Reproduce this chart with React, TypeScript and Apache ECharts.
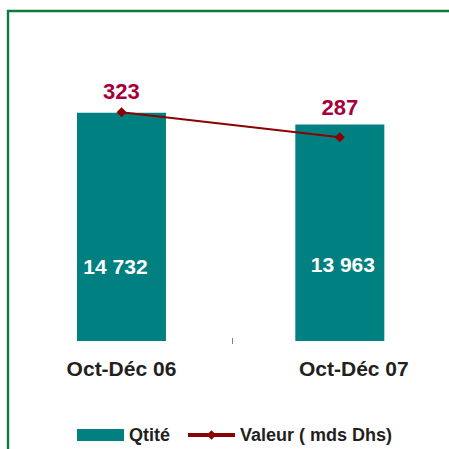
import React, { useEffect, useRef } from "react";
import * as echarts from "echarts";

const categories = ["Oct-Déc 06", "Oct-Déc 07"];
const qtite = [14732, 13963];
const valeur = [323, 287];
const seriesNames = ["Qtité", "Valeur ( mds Dhs)"];

const FONT = "'Liberation Sans', Arial, sans-serif";

function fmtThousands(v: number): string {
  return String(v).replace(/\B(?=(\d{3})+(?!\d))/g, " ");
}

export default function App() {
  const ref = useRef<HTMLDivElement>(null);
  useEffect(() => {
    document.body.style.margin = "0";
    const chart = echarts.init(ref.current!, undefined, { renderer: "svg" });
    const barLabelOffsets = [[-6, 0], [3, 0]];
    const barLabelDist = [64, 66];
    const lineLabelDist = [5, 14];
    chart.setOption({
      animation: false,
      backgroundColor: "#ffffff",
      textStyle: { fontFamily: FONT },
      graphic: [
        {
          type: "rect",
          shape: { x: 8, y: 11, width: 600, height: 600 },
          style: { fill: "none", stroke: "#0B7A3B", lineWidth: 2.4 },
          silent: true,
          z: 100,
        },
      ],
      grid: [
        { left: 12.3, top: 31, width: 440, height: 310, containLabel: false },
        // helper grid: only carries the single category-separator tick
        { left: 232.3, top: 31, width: 400, height: 310, containLabel: false },
      ],
      legend: {
        left: 77,
        top: 426,
        padding: 0,
        itemWidth: 47,
        itemHeight: 12,
        itemGap: 16,
        selectedMode: false,
        lineStyle: { width: 4 },
        textStyle: { fontFamily: FONT, fontSize: 18, fontWeight: "bold", color: "#231F20" },
        data: [
          { name: seriesNames[0], icon: "rect" },
          { name: seriesNames[1] },
        ],
      },
      xAxis: [
        {
          type: "category",
          gridIndex: 0,
          data: categories,
          boundaryGap: true,
          axisLine: { show: false },
          axisTick: { show: false },
          axisLabel: {
            margin: 17,
            fontFamily: FONT,
            fontSize: 21,
            fontWeight: "bold",
            color: "#231F20",
            formatter: (v: string, i: number) => (i === 1 ? `{r|${v}}` : `{l|${v}}`),
            rich: {
              l: { fontFamily: FONT, fontSize: 21, fontWeight: "bold", color: "#231F20" },
              r: {
                fontFamily: FONT,
                fontSize: 21,
                fontWeight: "bold",
                color: "#231F20",
                padding: [0, 0, 0, 28],
              },
            },
          },
        },
        {
          type: "value",
          gridIndex: 1,
          min: 0,
          max: 1,
          interval: 1,
          offset: -3,
          axisLine: { show: false },
          axisLabel: { show: false },
          splitLine: { show: false },
          axisTick: { show: true, length: 6, lineStyle: { color: "#808080", width: 1 } },
        },
      ],
      yAxis: [
        {
          type: "value",
          gridIndex: 0,
          min: 0,
          max: 20000,
          show: false,
          splitLine: { show: false },
        },
        {
          type: "value",
          gridIndex: 0,
          min: -6,
          max: 440,
          show: false,
          splitLine: { show: false },
        },
        {
          type: "value",
          gridIndex: 1,
          min: 0,
          max: 1,
          show: false,
          splitLine: { show: false },
        },
      ],
      series: [
        {
          name: seriesNames[0],
          type: "bar",
          xAxisIndex: 0,
          yAxisIndex: 0,
          barWidth: 89,
          itemStyle: { color: "#008080" },
          data: qtite.map((v, i) => ({
            value: v,
            label: {
              show: true,
              position: "insideBottom",
              distance: barLabelDist[i],
              offset: barLabelOffsets[i],
              formatter: () => fmtThousands(v),
              color: "#ffffff",
              fontFamily: FONT,
              fontSize: 21,
              fontWeight: "bold",
            },
          })),
        },
        {
          name: seriesNames[1],
          type: "line",
          xAxisIndex: 0,
          yAxisIndex: 1,
          symbol: "diamond",
          symbolSize: 10,
          itemStyle: { color: "#8B0000" },
          lineStyle: { color: "#8B0000", width: 2 },
          data: valeur.map((v, i) => ({
            value: v,
            label: {
              show: true,
              position: "top",
              distance: lineLabelDist[i],
              color: "#A5003A",
              fontFamily: FONT,
              fontSize: 22,
              fontWeight: "bold",
            },
          })),
        },
      ],
    });
    return () => chart.dispose();
  }, []);
  return (
    <div
      ref={ref}
      style={{ position: "fixed", left: 0, top: 0, width: 449, height: 449 }}
    />
  );
}
